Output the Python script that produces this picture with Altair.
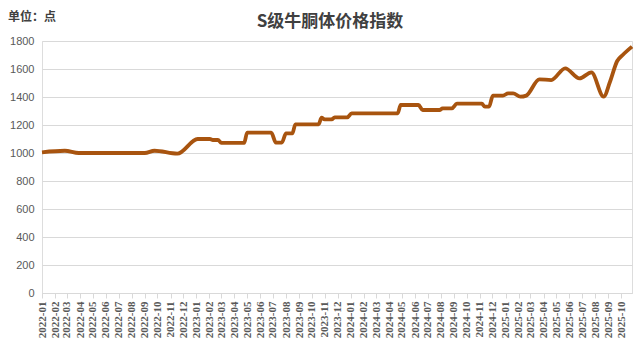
import altair as alt
import pandas as pd

# Key points (date, index value)
dates = [
    "2022-01-01", "2022-02-24", "2022-03-29", "2022-09-01", "2022-09-24",
    "2022-11-17", "2023-01-04", "2023-02-02", "2023-02-09", "2023-02-21",
    "2023-03-01", "2023-04-24", "2023-05-01", "2023-06-27", "2023-07-08",
    "2023-07-22", "2023-08-01", "2023-08-16", "2023-08-23", "2023-10-17",
    "2023-10-24", "2023-10-31", "2023-11-17", "2023-11-24", "2023-12-24",
    "2024-01-03", "2024-04-21", "2024-04-28", "2024-06-09", "2024-06-19",
    "2024-07-29", "2024-08-05", "2024-08-27", "2024-09-08", "2024-11-06",
    "2024-11-13", "2024-11-23", "2024-12-02", "2024-12-26", "2025-01-07",
    "2025-01-19", "2025-02-05", "2025-02-19", "2025-03-22", "2025-04-19",
    "2025-05-22", "2025-06-25", "2025-07-23", "2025-08-21", "2025-09-05",
    "2025-09-22", "2025-10-05", "2025-10-27",
]
values = [
    1005, 1016, 1000, 1000, 1016,
    995, 1100, 1100, 1093, 1093,
    1072, 1072, 1145, 1145, 1074,
    1074, 1140, 1140, 1205, 1205,
    1252, 1240, 1240, 1255, 1255,
    1283, 1283, 1343, 1343, 1307,
    1307, 1319, 1319, 1352, 1352,
    1331, 1331, 1410, 1410, 1426,
    1426, 1402, 1410, 1526, 1521,
    1605, 1533, 1576, 1402, 1509,
    1657, 1700, 1760,
]
y_ticks = [0, 200, 400, 600, 800, 1000, 1200, 1400, 1600, 1800]
tick_years = [2022] * 12 + [2023] * 12 + [2024] * 12 + [2025] * 10
tick_months = list(range(1, 13)) * 3 + list(range(1, 11))

title_text = "S级牛胴体价格指数"
unit_text = "单位：点"

df = pd.DataFrame({"date": dates, "value": values})

x_values = [alt.DateTime(year=y, month=m, date=1, utc=True)
            for y, m in zip(tick_years, tick_months)]

line = alt.Chart(df).mark_line(
    color="#A8540F", strokeWidth=3.8, interpolate="monotone"
).encode(
    x=alt.X(
        "date:T",
        scale=alt.Scale(type="utc",
                        domain=[alt.DateTime(year=2022, month=1, date=1, utc=True),
                                alt.DateTime(year=2025, month=10, date=27, utc=True)]),
        axis=alt.Axis(
            title=None, values=x_values, format="%Y-%m", labelAngle=-90,
            labelFont="Liberation Sans Narrow", labelFontWeight="bold",
            labelFontSize=11, labelColor="#595959", labelPadding=3,
            labelOverlap=False, labelFlush=False,
            tickColor="#d9d9d9", tickSize=5, domainColor="#d9d9d9",
            grid=False,
        ),
    ),
    y=alt.Y(
        "value:Q",
        scale=alt.Scale(domain=[0, 1800], nice=False),
        axis=alt.Axis(
            title=None, values=y_ticks, format="d", labelFont="Liberation Sans",
            labelFontSize=11, labelColor="#595959", labelPadding=8,
            domain=False, ticks=False, gridColor="#d9d9d9",
        ),
    ),
)

unit = alt.Chart(alt.Data(values=[{"t": unit_text}])).mark_text(
    align="left", baseline="middle", font="Noto Sans CJK SC",
    fontWeight="bold", fontSize=12, color="#404040",
).encode(x=alt.value(-34), y=alt.value(-24), text="t:N")

title = alt.Chart(alt.Data(values=[{"t": title_text}])).mark_text(
    align="center", baseline="middle", font="Noto Sans CJK SC",
    fontWeight="bold", fontSize=17, color="#404040",
).encode(x=alt.value(288), y=alt.value(-19), text="t:N")

chart = alt.layer(line, unit, title).properties(
    width=590, height=252,
    autosize=alt.AutoSizeParams(type="none"),
    padding={"left": 42, "top": 41, "right": 3, "bottom": 59},
).configure_view(stroke=None).configure(background="white")

chart.save("out.html", embed_options={"renderer": "svg", "actions": False})
